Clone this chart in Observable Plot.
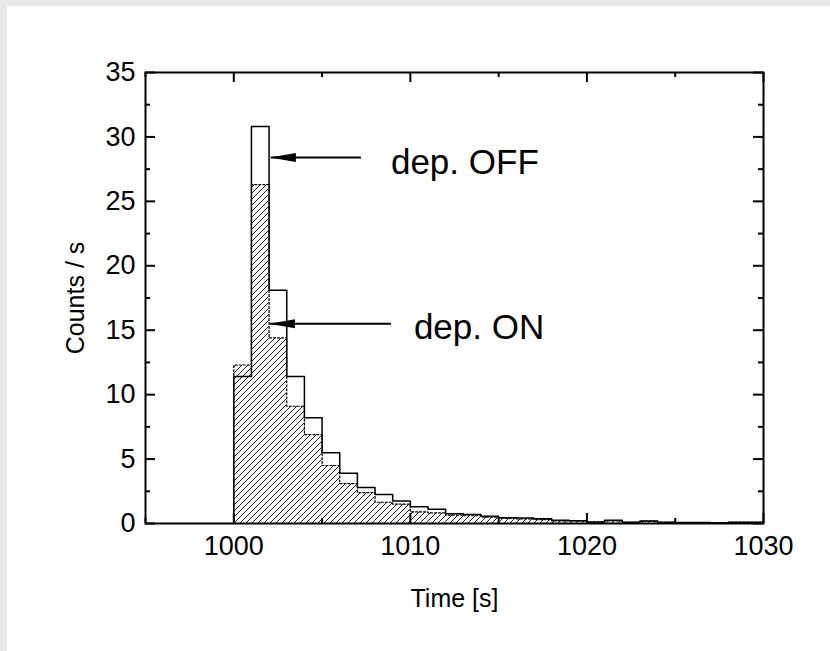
<!DOCTYPE html>
<html><head><meta charset="utf-8">
<script src="https://cdn.jsdelivr.net/npm/d3@7"></script>
<script src="https://cdn.jsdelivr.net/npm/@observablehq/plot@0.6"></script>
<style>
html,body{margin:0;padding:0;background:#e8e8e8;width:830px;height:651px;overflow:hidden}
#chart{position:absolute;left:7px;top:6px;width:823px;height:645px;background:#fff}
</style></head><body><div id="chart"></div>
<script>
// 1-second bins (left edges)
const binStart = [1000,1001,1002,1003,1004,1005,1006,1007,1008,1009,1010,1011,1012,1013,1014,1015,1016,1017,1018,1019,1020,1021,1022,1023,1024,1025,1026,1027,1028,1029];
const countsOff = [11.4,30.8,18.1,11.4,8.2,5.5,3.9,2.8,2.25,1.75,1.3,1.1,0.75,0.7,0.57,0.45,0.42,0.36,0.26,0.22,0.12,0.25,0.1,0.2,0.1,0.08,0.08,0.06,0.1,0.1];
const countsOn  = [12.3,26.3,14.4,9.1,6.9,4.5,3.1,2.4,1.65,1.5,0.9,0.82,0.65,0.6,0.5,0.4,0.35,0.3,0.2,0.2,0.1,0.2,0.08,0.18,0.08,0.06,0.06,0.05,0.08,0.08];
const binWidth = 1;
const xTickLabels = [1000,1010,1020,1030];
const xMinorTicks = [995,1005,1015,1025];
const yTickLabels = [0,5,10,15,20,25,30,35];
const yMinorTicks = [2.5,7.5,12.5,17.5,22.5,27.5,32.5];
const annotationText = ["dep. OFF","dep. ON"];
const annotationX = [1008.9,1010.2];
const annotationY = [28.0,15.2];
const arrowTail = [1007.2,1008.9];
const arrowTip = [1002.1,1002.05];
const arrowY = [28.4,15.5];

const W = 823, H = 645, mL = 138, mR = 67, mT = 66, mB = 128;
const innerW = W - mL - mR, innerH = H - mT - mB;

const bins = binStart.map((x, i) => ({x, off: countsOff[i], on: countsOn[i]}));
function outline(key) {
  const pts = [{x: binStart[0], y: 0}];
  bins.forEach(b => pts.push({x: b.x, y: b[key]}));
  const last = bins[bins.length - 1];
  pts.push({x: last.x + binWidth, y: last[key]});
  return pts;
}
const arrows = annotationText.map((t, i) => ({from: arrowTail[i], to: arrowTip[i], y: arrowY[i]}));
const labels = annotationText.map((t, i) => ({t, x: annotationX[i], y: annotationY[i]}));

const plot = Plot.plot({
  width: W, height: H,
  marginLeft: mL, marginRight: mR, marginTop: mT, marginBottom: mB,
  style: {fontFamily: "'Liberation Sans', Arial, sans-serif", fontSize: "27px", background: "white", color: "black"},
  x: {domain: [995, 1030]},
  y: {domain: [0, 35]},
  marks: [
    Plot.rectY(bins, {x1: "x", x2: d => d.x + binWidth, y: "on", fill: "url(#hatch)"}),
    Plot.line(outline("on"), {x: "x", y: "y", curve: "step-after", stroke: "black", strokeWidth: 1.2, strokeDasharray: "2,2"}),
    Plot.line(outline("off"), {x: "x", y: "y", curve: "step-after", stroke: "black", strokeWidth: 1.5}),
    // inward ticks on all four sides
    Plot.tickX(xTickLabels, {x: d => d, insetTop: innerH - 10, strokeWidth: 2}),
    Plot.tickX(xTickLabels, {x: d => d, insetBottom: innerH - 10, strokeWidth: 2}),
    Plot.tickX(xMinorTicks, {x: d => d, insetTop: innerH - 5, strokeWidth: 2}),
    Plot.tickX(xMinorTicks, {x: d => d, insetBottom: innerH - 5, strokeWidth: 2}),
    Plot.tickY(yTickLabels, {y: d => d, insetRight: innerW - 10, strokeWidth: 2}),
    Plot.tickY(yTickLabels, {y: d => d, insetLeft: innerW - 10, strokeWidth: 2}),
    Plot.tickY(yMinorTicks, {y: d => d, insetRight: innerW - 5, strokeWidth: 2}),
    Plot.tickY(yMinorTicks, {y: d => d, insetLeft: innerW - 5, strokeWidth: 2}),
    Plot.frame({stroke: "black", strokeWidth: 2}),
    Plot.axisX({ticks: xTickLabels, tickSize: 0, tickPadding: 12, tickFormat: d => String(d), label: null}),
    Plot.axisY({ticks: yTickLabels, tickSize: 0, tickPadding: 10, tickFormat: d => String(d), label: null}),
    Plot.text(["Time [s]"], {frameAnchor: "bottom", lineAnchor: "middle", textAnchor: "middle", dy: 75, fontSize: 25, fill: "black"}),
    Plot.text(["Counts / s"], {frameAnchor: "left", lineAnchor: "middle", textAnchor: "middle", dx: -70, rotate: -90, fontSize: 25, fill: "black"}),
    Plot.link(arrows, {x1: "from", x2: "to", y1: "y", y2: "y", stroke: "black", strokeWidth: 2}),
    Plot.text(labels, {x: "x", y: "y", text: "t", textAnchor: "start", fontSize: 35, fill: "black"})
  ]
});

const ns = "http://www.w3.org/2000/svg";
const defs = document.createElementNS(ns, "defs");
defs.innerHTML = `
  <pattern id="hatch" patternUnits="userSpaceOnUse" width="6" height="6">
    <path d="M0,6 L6,0 M-1.5,1.5 L1.5,-1.5 M4.5,7.5 L7.5,4.5" stroke="black" stroke-width="0.9"/>
  </pattern>
  <marker id="head" markerUnits="userSpaceOnUse" markerWidth="27" markerHeight="12" refX="25" refY="6" orient="auto">
    <path d="M0,1.5 L26,6 L0,10.5 Z" fill="black"/>
  </marker>`;
plot.insertBefore(defs, plot.firstChild);
plot.querySelectorAll('g[aria-label="link"] path, g[aria-label="link"] line').forEach(p => p.setAttribute("marker-end", "url(#head)"));
document.getElementById("chart").appendChild(plot);
</script></body></html>
